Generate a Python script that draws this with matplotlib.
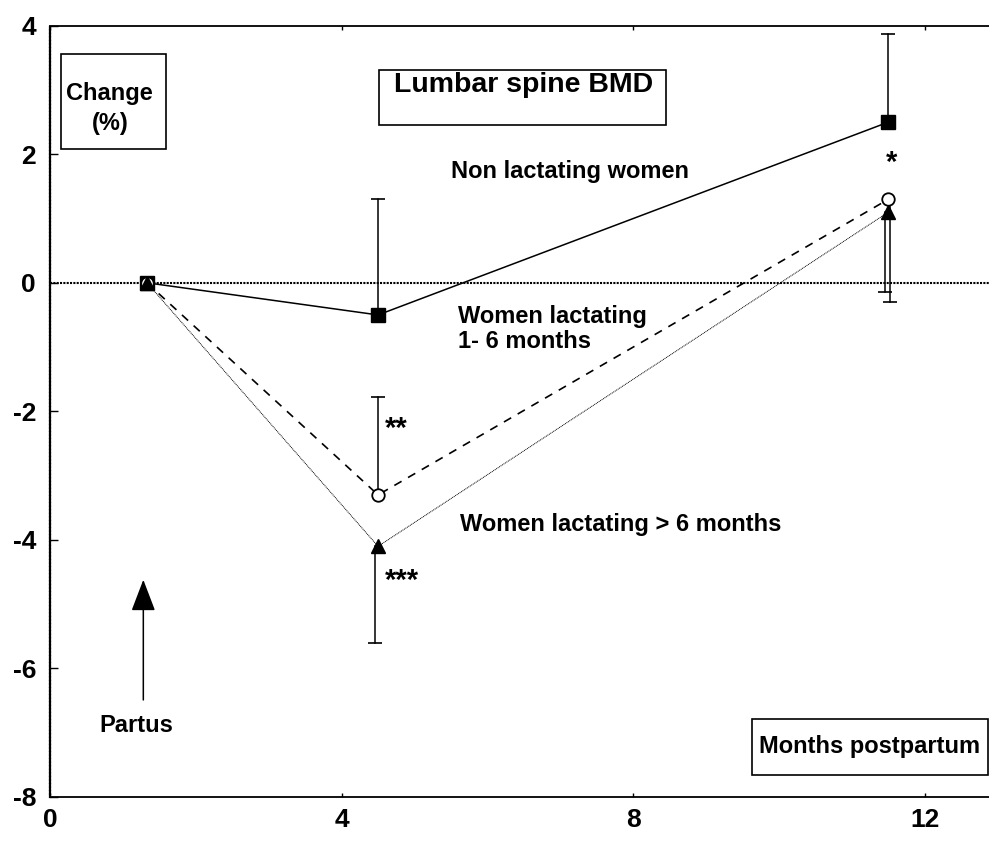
import matplotlib
matplotlib.use("Agg")
import matplotlib.pyplot as plt
from matplotlib.patches import Rectangle, FancyArrowPatch

plt.rcParams['font.family'] = ['Liberation Sans', 'DejaVu Sans']
plt.rcParams['font.weight'] = 'bold'

# Months postpartum at each measurement
months = [1.33, 4.5, 11.5]

# Mean change in lumbar spine BMD (%)
non_lactating = [0.0, -0.5, 2.5]
lact_1_6 = [0.0, -3.3, 1.3]
lact_gt_6 = [0.0, -4.1, 1.1]

# One-sided error bars (upper, lower) per time point
non_lactating_err_up = [0.0, 1.8, 1.37]
lact_1_6_err_up = [0.0, 1.53, 0.0]
lact_1_6_err_down = [0.0, 0.0, 1.6]
lact_gt_6_err_down = [0.0, 1.51, 1.25]

x_ticks = [0, 4, 8, 12]
y_ticks = [4, 2, 0, -2, -4, -6, -8]

W, H = 989, 842
fig = plt.figure(figsize=(W / 100, H / 100), dpi=100)
ax = fig.add_axes([50 / W, (H - 797) / H, (W - 50) / W, (797 - 25.7) / H])
ax.set_xlim(0, 12.88)
ax.set_ylim(-8, 4)

# zero reference line
ax.axhline(0, color='black', lw=1.5, ls=(0, (1, 0.6)), zorder=1)


def bars(xs, ys, errs, sign, dx=0.0, cap=10):
    for xv, yv, e in zip(xs, ys, errs):
        if e > 0:
            end = yv + sign * e
            ax.plot([xv + dx, xv + dx], [yv, end], color='black', lw=1.1, zorder=2)
            ax.plot([xv + dx], [end], marker='_', ms=cap, mew=1.2, color='black', zorder=2)


bars(months, non_lactating, non_lactating_err_up, +1)
bars(months, lact_1_6, lact_1_6_err_up, +1)
bars(months, lact_1_6, lact_1_6_err_down, -1, dx=0.02)
bars(months, lact_gt_6, lact_gt_6_err_down, -1, dx=-0.04)

ax.plot(months, non_lactating, color='black', lw=1.1, ls='-',
        marker='s', ms=9.5, mfc='black', mec='black', zorder=4)
ax.plot(months, lact_1_6, color='black', lw=1.2, ls=(0, (5, 4.5)),
        marker='o', ms=9, mfc='white', mec='black', mew=1.3, zorder=5)
ax.plot(months, lact_gt_6, color='black', lw=0.7, ls=(0, (1, 0.8)),
        marker='^', ms=10, mfc='black', mec='black', zorder=6)

# significance markers
fs = 17
sfs = 21
ax.text(4.60, -2.40, '**', fontsize=sfs, fontweight='bold', ha='left', va='baseline')
ax.text(4.60, -4.76, '***', fontsize=sfs, fontweight='bold', ha='left', va='baseline')
ax.text(11.54, 1.74, '*', fontsize=sfs, fontweight='bold', ha='center', va='baseline')

# series labels
ax.text(7.13, 1.73, 'Non lactating women', fontsize=fs, fontweight='bold',
        ha='center', va='center')
ax.text(5.60, -0.72, 'Women lactating\n1- 6 months', fontsize=fs, fontweight='bold',
        ha='left', va='center', linespacing=1.12)
ax.text(5.63, -3.76, 'Women lactating > 6 months', fontsize=fs, fontweight='bold',
        ha='left', va='center')

# framed labels
def framed(x0, y0, x1, y1, tx, ty, s, size, spacing=1.1):
    ax.add_patch(Rectangle((x0, y0), x1 - x0, y1 - y0, fill=False,
                           ec='black', lw=1.2, zorder=3, clip_on=False))
    ax.text(tx, ty, s, fontsize=size, fontweight='bold', ha='center',
            va='center', linespacing=spacing, zorder=4)

framed(0.151, 2.08, 1.592, 3.56, 0.82, 2.71, 'Change\n(%)', 17, 1.35)
framed(4.51, 2.46, 8.45, 3.31, 6.50, 3.07, 'Lumbar spine BMD', 20.5)
framed(9.63, -7.65, 12.87, -6.78, 11.24, -7.22, 'Months postpartum', 17)

# partus arrow
ax.add_patch(FancyArrowPatch((1.28, -6.49), (1.28, -4.62),
                             arrowstyle='-|>,head_length=11,head_width=4.2',
                             mutation_scale=1.8, color='black', lw=1.1,
                             shrinkA=0, shrinkB=0, zorder=3))
ax.text(1.18, -6.89, 'Partus', fontsize=fs, fontweight='bold', ha='center', va='center')

# axes styling
ax.spines['right'].set_visible(False)
ax.spines['top'].set_linewidth(1.3)
ax.spines['bottom'].set_linewidth(1.3)
ax.spines['left'].set_linewidth(1.6)
ax.spines['left'].set_linestyle((0, (1, 0.6)))

ax.set_xticks(x_ticks)
ax.set_yticks(y_ticks)
ax.set_xticklabels([str(v) for v in x_ticks], fontsize=19, fontweight='bold')
ax.set_yticklabels([str(v) for v in y_ticks], fontsize=19, fontweight='bold')
ax.tick_params(axis='y', direction='in', length=6, width=1, pad=10, left=True)
ax.tick_params(axis='x', direction='in', length=3, width=1, pad=8,
               bottom=True, top=True)

fig.savefig('out.png', dpi=100)
